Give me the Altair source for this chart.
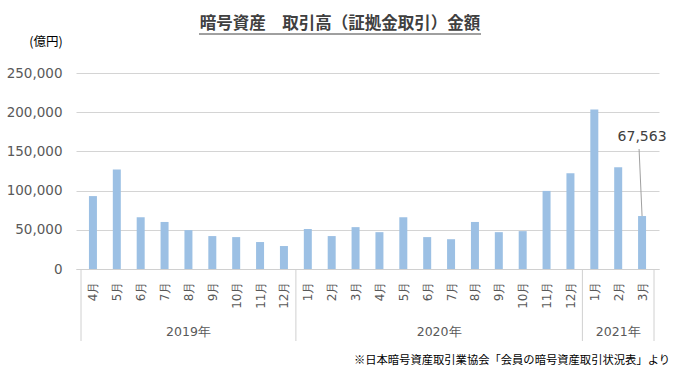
import altair as alt
import pandas as pd

years = ["2019年"] * 9 + ["2020年"] * 12 + ["2021年"] * 3
months = ["4月", "5月", "6月", "7月", "8月", "9月", "10月", "11月", "12月",
          "1月", "2月", "3月", "4月", "5月", "6月", "7月", "8月", "9月", "10月", "11月", "12月",
          "1月", "2月", "3月"]
values = [93000, 127000, 66000, 60000, 49600, 42000, 40700, 34400, 29300,
          51000, 42000, 53400, 47000, 66000, 40700, 38000, 60000, 47000, 48300, 99600, 122000,
          203600, 129800, 67563]
y_ticks = [0, 50000, 100000, 150000, 200000, 250000]

title_text = "暗号資産\u2002\u2002取引高（証拠金取引）金額"
unit_text = "(億円)"
source_text = "※日本暗号資産取引業協会「会員の暗号資産取引状況表」より"

df = pd.DataFrame({"idx": list(range(len(values))), "year": years,
                   "month": months, "value": values})

# group boundaries for the two-level category axis
bounds = [-0.5]
for i in range(1, len(years)):
    if years[i] != years[i - 1]:
        bounds.append(i - 0.5)
bounds.append(len(years) - 0.5)
bdf = pd.DataFrame({"b": bounds})

W, H = 583, 196
xscale = alt.Scale(domain=[-0.5, len(values) - 0.5], nice=False, zero=False)
yscale = alt.Scale(domain=[0, 250000], nice=False)

month_arr = "[" + ",".join("'" + m + "'" for m in months) + "]"

x_axis = alt.Axis(values=list(range(len(values))), labelExpr=month_arr + "[datum.value]",
                  labelAngle=270, labelFlush=False, labelOverlap=False, labelBound=False,
                  ticks=False, grid=False, domainColor="#d0d0d0", labelPadding=12,
                  labelFont="DejaVu Sans", labelFontSize=12, labelColor="#595959", title=None)
y_axis = alt.Axis(values=y_ticks, labelExpr="format(datum.value, ',')", labelOverlap=False,
                  domain=False, ticks=False, gridColor="#d4d4d4",
                  labelPadding=14, labelFont="DejaVu Sans", labelFontSize=13.5,
                  labelColor="#595959", title=None)

base = alt.Chart(df)

bars = base.mark_bar(size=8, color="#9cc0e4").encode(
    x=alt.X("idx:Q", scale=xscale, axis=x_axis),
    y=alt.Y("value:Q", scale=yscale, axis=y_axis),
)

last = base.transform_filter(alt.datum.idx == len(values) - 1)
leader = last.mark_rule(color="#a0a0a0", strokeWidth=1, y2Offset=-67, x2Offset=-3).encode(
    x=alt.X("idx:Q", scale=xscale, axis=x_axis), x2="idx:Q",
    y=alt.Y("value:Q", scale=yscale, axis=y_axis), y2="value:Q")
ann = last.mark_text(dy=-79, dx=0, font="DejaVu Sans", fontSize=14, color="#404040").encode(
    x=alt.X("idx:Q", scale=xscale, axis=x_axis), y=alt.Y("value:Q", scale=yscale, axis=y_axis),
    text=alt.Text("value:Q", format=","))

year_lbl = base.mark_text(font="DejaVu Sans", fontSize=12.5, color="#595959").encode(
    x=alt.X("mean(idx):Q", scale=xscale, axis=x_axis), y=alt.value(H + 63), text="year:N")

seps = alt.Chart(bdf).mark_rule(color="#d0d0d0").encode(
    x=alt.X("b:Q", scale=xscale, axis=x_axis), y=alt.value(H), y2=alt.value(H + 72))

title = alt.Chart(pd.DataFrame({"t": [title_text]})).mark_text(
    font="Noto Sans CJK JP", fontSize=16.5, fontWeight="bold", color="#404040").encode(
    x=alt.value(264), y=alt.value(-49), text="t:N")
underline = alt.Chart(pd.DataFrame({"t": [title_text]})).mark_rule(color="#404040").encode(
    x=alt.value(123), x2=alt.value(405), y=alt.value(-39))
unit = alt.Chart(pd.DataFrame({"t": [unit_text]})).mark_text(
    font="Noto Sans CJK JP", fontSize=12.5, color="#000000").encode(
    x=alt.value(-30), y=alt.value(-31), text="t:N")
source = alt.Chart(pd.DataFrame({"t": [source_text]})).mark_text(
    font="Noto Sans CJK JP", fontSize=11.3, color="#000000", align="right").encode(
    x=alt.value(594), y=alt.value(288), text="t:N")

chart = alt.layer(bars, leader, ann, year_lbl, seps, title, underline, unit, source).properties(
    width=W, height=H,
    autosize=alt.AutoSizeParams(type="none"),
    padding={"left": 76, "top": 73, "right": 22, "bottom": 109},
    background="white",
).configure_view(stroke=None)

chart.save("out.html", embed_options={"renderer": "svg", "actions": False})
